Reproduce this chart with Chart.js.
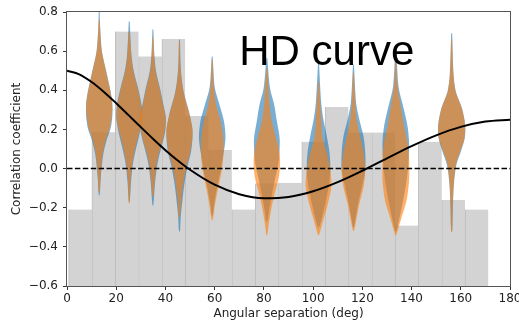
<!DOCTYPE html>
<html>
<head>
<meta charset="utf-8">
<script src="https://cdn.jsdelivr.net/npm/chart.js@4/dist/chart.umd.min.js"></script>
<style>
html,body{margin:0;padding:0;background:#fff;}
#wrap{width:519px;height:324px;}
</style>
</head>
<body>
<div id="wrap"><canvas id="c" width="519" height="324"></canvas></div>
<script>
// ---- data ----
const binCenters = [5.39, 14.86, 24.34, 33.81, 43.29, 52.76, 62.24, 71.71, 81.19, 90.66, 100.14, 109.61, 119.09, 128.56, 138.04, 147.51, 156.99, 166.46];
const binHeights = [-0.209, 0.186, 0.70, 0.573, 0.662, 0.269, 0.095, -0.209, -0.076, -0.073, 0.137, 0.314, 0.184, 0.184, -0.291, 0.137, -0.161, -0.209];
const histBase = -0.6;

const hdAngles = [0, 5, 10, 15, 20, 25, 30, 35, 40, 45, 50, 60, 70, 80, 90, 100, 110, 120, 130, 140, 150, 160, 170, 180];
const hdValues = [0.5, 0.4816, 0.4424, 0.3917, 0.3341, 0.2732, 0.2116, 0.1514, 0.0942, 0.0414, -0.0061, -0.0824, -0.1309, -0.1511, -0.1449, -0.1159, -0.0693, -0.0111, 0.0522, 0.1145, 0.1697, 0.2130, 0.2405, 0.25];

const violinCenters = [13.1, 25.3, 34.9, 45.7, 59.0, 81.2, 102.2, 116.4, 133.6, 156.3];
// [correlation value, half width in degrees]
const orangeProfiles = [
  [[0.76,0.2],[0.70,0.4],[0.60,1.0],[0.50,2.7],[0.42,4.1],[0.35,5.1],[0.30,5.3],[0.25,4.9],[0.20,4.1],[0.15,2.7],[0.07,1.3],[-0.05,0.5],[-0.118,0.2]],
  [[0.70,0.2],[0.58,0.8],[0.50,1.6],[0.41,3.4],[0.325,4.8],[0.26,5.2],[0.19,4.1],[0.12,2.7],[0.033,1.3],[-0.07,0.5],[-0.177,0.2]],
  [[0.67,0.2],[0.58,0.5],[0.496,1.1],[0.41,2.7],[0.325,4.1],[0.26,5.2],[0.19,4.8],[0.12,3.4],[0.033,1.6],[-0.07,0.7],[-0.144,0.2]],
  [[0.65,0.2],[0.50,0.5],[0.393,1.6],[0.29,3.8],[0.207,5.2],[0.156,5.2],[0.086,4.4],[0.018,3.0],[-0.07,1.6],[-0.15,0.8],[-0.25,0.2]],
  [[0.556,0.2],[0.41,0.7],[0.325,1.6],[0.24,3.4],[0.155,4.5],[0.069,4.5],[-0.015,3.8],[-0.10,2.4],[-0.187,1.1],[-0.264,0.2]],
  [[0.513,0.2],[0.41,0.7],[0.325,1.1],[0.24,2.0],[0.155,3.8],[0.104,4.8],[0.035,5.4],[-0.05,4.8],[-0.135,3.0],[-0.22,1.6],[-0.29,0.7],[-0.34,0.2]],
  [[0.445,0.2],[0.334,0.7],[0.249,1.1],[0.163,1.6],[0.078,3.4],[-0.007,4.8],[-0.093,5.2],[-0.178,3.8],[-0.264,1.9],[-0.34,0.2]],
  [[0.488,0.2],[0.334,0.7],[0.249,1.3],[0.163,2.7],[0.078,4.1],[-0.007,4.8],[-0.093,4.1],[-0.178,2.4],[-0.264,1.1],[-0.318,0.2]],
  [[0.556,0.2],[0.419,0.7],[0.317,2.0],[0.214,3.4],[0.129,4.8],[0.044,5.4],[-0.059,5.4],[-0.161,4.4],[-0.264,2.0],[-0.34,0.2]],
  [[0.658,0.2],[0.479,0.7],[0.393,1.6],[0.308,4.1],[0.223,5.4],[0.155,5.2],[0.086,3.4],[0.018,1.6],[-0.084,0.8],[-0.2,0.4],[-0.323,0.2]]
];
const blueProfiles = [
  [[0.80,0.2],[0.72,0.4],[0.60,1.1],[0.50,2.8],[0.42,4.2],[0.35,5.2],[0.30,5.4],[0.25,5.2],[0.20,4.5],[0.15,3.1],[0.07,1.6],[-0.05,0.6],[-0.135,0.2]],
  [[0.752,0.2],[0.58,0.9],[0.50,1.8],[0.41,3.6],[0.325,5.0],[0.26,5.3],[0.19,4.4],[0.12,3.1],[0.033,1.6],[-0.07,0.7],[-0.17,0.2]],
  [[0.71,0.2],[0.58,0.6],[0.496,1.3],[0.41,2.9],[0.325,4.3],[0.26,5.3],[0.19,5.0],[0.12,3.7],[0.033,2.0],[-0.07,0.9],[-0.187,0.2]],
  [[0.66,0.2],[0.50,0.6],[0.393,1.7],[0.29,3.9],[0.207,5.2],[0.156,5.3],[0.086,4.7],[0.018,3.4],[-0.07,2.1],[-0.15,1.3],[-0.25,0.5],[-0.32,0.2]],
  [[0.573,0.2],[0.41,1.1],[0.325,3.0],[0.24,4.8],[0.155,5.4],[0.069,4.5],[-0.015,3.4],[-0.10,1.9],[-0.187,0.7],[-0.24,0.2]],
  [[0.565,0.2],[0.41,1.3],[0.325,3.0],[0.24,4.1],[0.155,5.2],[0.104,5.2],[0.035,4.8],[-0.05,3.4],[-0.135,2.0],[-0.22,0.8],[-0.27,0.2]],
  [[0.539,0.2],[0.334,1.1],[0.249,2.0],[0.163,3.4],[0.078,4.5],[-0.007,4.8],[-0.093,4.1],[-0.178,2.7],[-0.264,1.1],[-0.30,0.2]],
  [[0.53,0.2],[0.334,1.1],[0.249,2.4],[0.163,4.1],[0.078,4.8],[-0.007,4.8],[-0.093,3.4],[-0.178,1.9],[-0.264,0.7],[-0.30,0.2]],
  [[0.633,0.2],[0.419,1.1],[0.317,3.0],[0.214,4.8],[0.129,5.4],[0.044,5.2],[-0.059,4.4],[-0.161,3.0],[-0.264,1.3],[-0.32,0.2]],
  [[0.692,0.2],[0.479,0.8],[0.393,1.7],[0.308,4.2],[0.223,5.5],[0.155,5.3],[0.086,3.7],[0.018,1.9],[-0.084,0.9],[-0.2,0.5],[-0.32,0.2]]
];

const xTicksMin = 0, xTicksMax = 180, xStep = 20;
const yTicksMin = -0.6, yTicksMax = 0.8, yStep = 0.2;
const labelText = 'HD curve';

// ---- build datasets ----
function violinPoints(center, profile) {
  const right = profile.map(([y, w]) => ({x: center + w, y}));
  const left = profile.slice().reverse().map(([y, w]) => ({x: center - w, y}));
  return right.concat(left);
}
function violinDataset(center, profile, color) {
  return {
    type: 'line',
    data: violinPoints(center, profile),
    borderWidth: 0,
    borderColor: 'rgba(0,0,0,0)',
    backgroundColor: color,
    fill: 'shape',
    pointRadius: 0,
    tension: 0.3,
    parsing: false
  };
}

const datasets = [];
datasets.push({
  type: 'line',
  data: hdAngles.map((a, i) => ({x: a, y: hdValues[i]})),
  borderColor: '#000',
  borderWidth: 2,
  pointRadius: 0,
  fill: false,
  cubicInterpolationMode: 'monotone'
});
datasets.push({
  type: 'line',
  data: [{x: xTicksMin, y: 0}, {x: xTicksMax, y: 0}],
  borderColor: '#000',
  borderWidth: 1.5,
  borderDash: [5.5, 2.4],
  pointRadius: 0,
  fill: false
});
violinCenters.forEach((c, i) => datasets.push(violinDataset(c, orangeProfiles[i], 'rgba(255,127,14,0.62)')));
violinCenters.forEach((c, i) => datasets.push(violinDataset(c, blueProfiles[i], 'rgba(31,119,180,0.6)')));
datasets.push({
  type: 'bar',
  data: binCenters.map((c, i) => ({x: c, y: [histBase, binHeights[i]]})),
  backgroundColor: '#d3d3d3',
  borderColor: '#bcbcbc',
  borderWidth: {left: 1, right: 0, top: 0, bottom: 0},
  borderSkipped: false,
  barPercentage: 1,
  categoryPercentage: 1
});

const framePlugin = {
  id: 'frame',
  afterDatasetsDraw(chart) {
    const {ctx, chartArea: a, scales} = chart;
    ctx.save();
    ctx.font = '42px "Liberation Sans", Arial, sans-serif';
    ctx.fillStyle = '#000';
    ctx.textAlign = 'left';
    ctx.textBaseline = 'alphabetic';
    ctx.fillText(labelText, scales.x.getPixelForValue(70), scales.y.getPixelForValue(0.53));
    ctx.strokeStyle = '#555';
    ctx.lineWidth = 1;
    ctx.strokeRect(Math.round(a.left) - 0.5, Math.round(a.top) - 0.5, Math.round(a.right - a.left) + 1, Math.round(a.bottom - a.top) + 1);
    ctx.restore();
  }
};

Chart.defaults.font.family = '"DejaVu Sans", sans-serif';
Chart.defaults.font.size = 12;
Chart.defaults.color = '#222';

new Chart(document.getElementById('c'), {
  type: 'bar',
  data: {datasets},
  options: {
    responsive: false,
    animation: false,
    events: [],
    layout: {padding: {top: 12, right: 9, left: 0, bottom: 0}},
    plugins: {legend: {display: false}, tooltip: {enabled: false}},
    scales: {
      x: {
        type: 'linear', min: xTicksMin, max: xTicksMax, offset: false,
        ticks: {stepSize: xStep, maxRotation: 0, autoSkip: false, padding: 2, color: '#222', font: {size: 12}},
        grid: {display: true, drawOnChartArea: false, drawTicks: true, tickLength: 4, color: '#333', offset: false},
        border: {display: false},
        title: {display: true, text: 'Angular separation (deg)', font: {size: 12}, padding: {top: 4, bottom: 3}, color: '#222'},
        afterFit(s) { s.height = 38; s.paddingLeft = 0; s.paddingRight = 0; }
      },
      y: {
        type: 'linear', min: yTicksMin, max: yTicksMax,
        ticks: {stepSize: yStep, padding: 5, color: '#222', font: {size: 12},
          callback: v => (Math.abs(v) < 1e-9 ? 0 : v).toFixed(1).replace('-', '\u2212')},
        grid: {display: true, drawOnChartArea: false, drawTicks: true, tickLength: 4, color: '#333'},
        border: {display: false},
        title: {display: true, text: 'Correlation coefficient', font: {size: 12}, padding: {top: 10, bottom: 10}, color: '#222'},
        afterFit(s) { s.width = 67; s.paddingTop = 0; s.paddingBottom = 0; }
      }
    }
  },
  plugins: [framePlugin]
});
</script>
</body>
</html>
